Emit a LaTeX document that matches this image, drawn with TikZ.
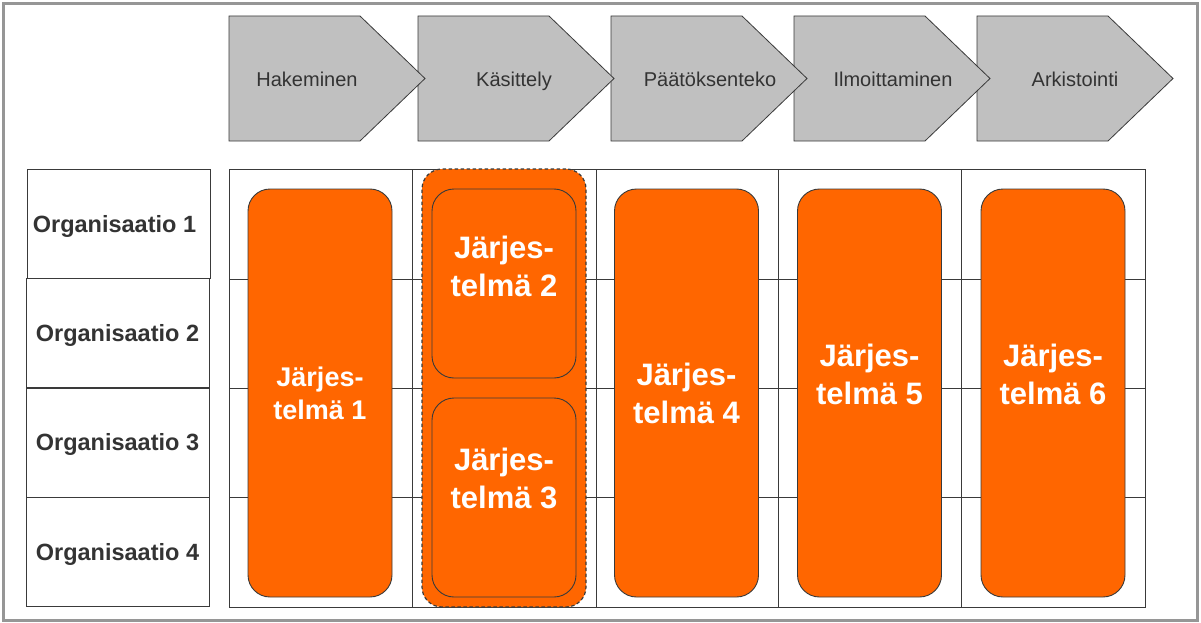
\documentclass[tikz,border=0pt]{standalone}
\usepackage{fontspec}
\setmainfont{Liberation Sans}
\usetikzlibrary{positioning}
\definecolor{sysorange}{HTML}{FF6600}
\definecolor{phasegray}{HTML}{C0C0C0}
\definecolor{linegray}{HTML}{3A3A3A}
\definecolor{textgray}{HTML}{333333}
\definecolor{framegray}{HTML}{969696}
\begin{document}
\begin{tikzpicture}[
	x=1pt, y=-1pt,
	phase/.style = {fill=phasegray, draw=linegray, line width=0.8pt},
	phase label/.style = {inner sep=0pt, text=textgray, text height=14.3pt, text depth=0pt,
		font=\fontsize{20}{24}\selectfont},
	grid line/.style = {draw=linegray, line width=1pt},
	org/.style = {draw=linegray, line width=1pt, minimum width=183pt, minimum height=109.5pt,
		inner sep=0pt, text=textgray, text height=16.8pt, text depth=0pt,
		font=\bfseries\fontsize{23.5}{28}\selectfont},
	group/.style = {fill=sysorange, draw=linegray, line width=1.2pt, dash pattern=on 3.5pt off 2.5pt,
		rounded corners=20pt, minimum width=164pt, minimum height=438pt, inner sep=0pt},
	system/.style = {fill=sysorange, draw=linegray, line width=0.9pt, rounded corners=22pt,
		minimum width=144pt, inner sep=0pt},
	system label/.style = {align=center, text=white, font=\bfseries\fontsize{31}{38}\selectfont}
]

\useasboundingbox (0,0) rectangle (1201,623);
\draw[framegray, line width=3pt] (3.5,3.5) rectangle (1197.5,620);

% process phases, drawn from the last one so that each tip lies on top
\foreach \x/\name/\cx/\txt in {977/arkistointi/1075/Arkistointi,
		794/ilmoittaminen/893/Ilmoittaminen, 611/paatoksenteko/710/Päätöksenteko,
		418/kasittely/514/Käsittely, 229/hakeminen/307/Hakeminen} {
	\draw[phase] (\x,16) -- ++(131,0) -- ++(65,62.5) -- ++(-65,62.5) -- ++(-131,0) -- cycle;
	\node[phase label] (\name) at (\cx,79.5) {\txt};
}

% grid
\draw[grid line] (229,169) rectangle (1145,607);
\foreach \x in {412,596,778,961}
	\draw[grid line] (\x,169) -- (\x,607);
\foreach \y in {279,388,497}
	\draw[grid line] (229,\y) -- (1145,\y);

\node[org] (org1) at (118.5,224) {\hspace*{-8pt}Organisaatio 1};
\foreach \i/\y in {2/333.5, 3/442.5, 4/552}
	\node[org] (org\i) at (117.5,\y) {Organisaatio \i};

% systems
\node[group] (kasittelygroup) at (504,388) {};

\node[system, minimum height=408pt] (sys1) at (320,393) {};
\node[system, minimum height=189pt] (sys2) at (504,283.5) {};
\node[system, minimum height=199pt] (sys3) at (504,497.5) {};
\node[system, minimum height=408pt] (sys4) at (686.5,393) {};
\node[system, minimum height=408pt] (sys5) at (869.5,393) {};
\node[system, minimum height=408pt] (sys6) at (1053,393) {};

\node[system label, font=\bfseries\fontsize{27}{33}\selectfont] (sys1 text) at (sys1) {Järjes-\\telmä 1};
\node[system label, yshift=17.5pt] (sys2 text) at (sys2) {Järjes-\\telmä 2};
\node[system label, yshift=19.5pt] (sys3 text) at (sys3) {Järjes-\\telmä 3};
\node[system label] (sys4 text) at (sys4) {Järjes-\\telmä 4};
\node[system label, yshift=19pt] (sys5 text) at (sys5) {Järjes-\\telmä 5};
\node[system label, yshift=19pt] (sys6 text) at (sys6) {Järjes-\\telmä 6};

\end{tikzpicture}
\end{document}
